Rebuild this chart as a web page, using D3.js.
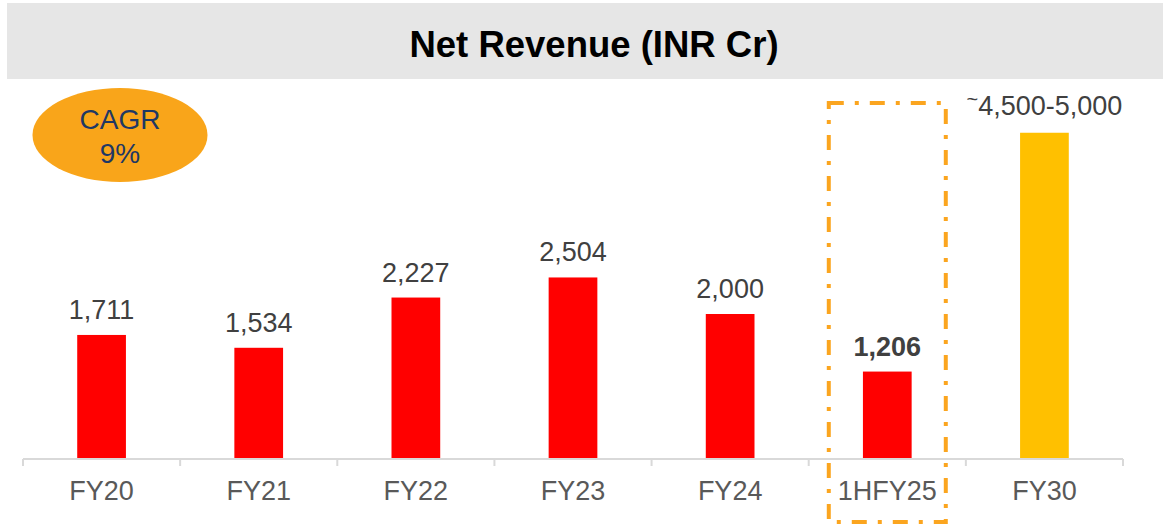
<!DOCTYPE html>
<html>
<head>
<meta charset="utf-8">
<script src="https://cdn.jsdelivr.net/npm/d3@7"></script>
<style>
  body { margin: 0; background: #fff; }
  svg { display: block; font-family: Arial, "Liberation Sans", sans-serif; }
</style>
</head>
<body>
<div id="chart"></div>
<script>
const categories = ['FY20', 'FY21', 'FY22', 'FY23', 'FY24', '1HFY25', 'FY30'];
const values = [1711, 1534, 2227, 2504, 2000, 1206, 4500];
const valueLabels = ['1,711', '1,534', '2,227', '2,504', '2,000', '1,206', '4,500-5,000'];
const highlighted = '1HFY25';
const target = 'FY30';

const width = 1163, height = 524;
const baseY = 459;

const svg = d3.select('#chart').append('svg')
    .attr('width', width)
    .attr('height', height);

// title band
svg.append('rect')
    .attr('x', 7).attr('y', 3)
    .attr('width', width - 7).attr('height', 76)
    .attr('fill', '#e6e6e6');

svg.append('text')
    .attr('x', 594).attr('y', 57)
    .attr('text-anchor', 'middle')
    .attr('font-size', 36.5)
    .attr('font-weight', 'bold')
    .attr('fill', '#000')
    .text('Net Revenue (INR Cr)');

const x = d3.scaleBand()
    .domain(categories)
    .range([23, 1123])
    .paddingInner(0.69)
    .paddingOuter(0.345);

const y = d3.scaleLinear()
    .domain([0, 5000])
    .range([baseY, baseY - 362.5]);

// bars
svg.append('g')
  .selectAll('rect')
    .data(categories)
  .enter().append('rect')
    .attr('x', d => x(d))
    .attr('y', (d, i) => y(values[i]))
    .attr('width', x.bandwidth())
    .attr('height', (d, i) => baseY - y(values[i]))
    .attr('fill', d => d === target ? '#ffc000' : '#ff0000');

// value labels
const labels = svg.append('g')
  .selectAll('text')
    .data(categories)
  .enter().append('text')
    .attr('x', d => x(d) + x.bandwidth() / 2)
    .attr('y', (d, i) => y(values[i]) - (d === target ? 18 : 16))
    .attr('text-anchor', 'middle')
    .attr('font-size', 27)
    .attr('font-weight', d => d === highlighted ? 'bold' : 'normal')
    .attr('fill', '#404040');

// FY30 range label gets a raised tilde
labels.filter(d => d === target)
  .append('tspan')
    .attr('font-size', 20)
    .attr('dy', -9)
    .text('~');
labels.filter(d => d === target)
  .append('tspan')
    .attr('dy', 9)
    .text(d => valueLabels[categories.indexOf(d)]);
labels.filter(d => d !== target)
    .text(d => valueLabels[categories.indexOf(d)]);

// axis line + boundary ticks
const axisG = svg.append('g').attr('class', 'axis');
axisG.append('line')
    .attr('x1', x.range()[0]).attr('x2', x.range()[1])
    .attr('y1', baseY).attr('y2', baseY)
    .attr('stroke', '#d9d9d9').attr('stroke-width', 2);

axisG.selectAll('.tick-mark')
    .data(d3.range(categories.length + 1))
  .enter().append('line')
    .attr('class', 'tick-mark')
    .attr('x1', i => x.range()[0] + i * x.step())
    .attr('x2', i => x.range()[0] + i * x.step())
    .attr('y1', baseY).attr('y2', baseY + 7)
    .attr('stroke', '#d9d9d9').attr('stroke-width', 2);

// category labels
const labelAxis = svg.append('g')
    .attr('transform', `translate(0,${baseY})`)
    .call(d3.axisBottom(x).tickSize(0).tickPadding(22));
labelAxis.select('.domain').remove();
labelAxis.selectAll('text')
    .attr('font-size', 27)
    .attr('font-family', 'Arial, "Liberation Sans", sans-serif')
    .attr('fill', '#595959');

// dash-dot highlight box
const hx = x(highlighted) + x.bandwidth() / 2;
svg.append('rect')
    .attr('x', hx - 58.5).attr('y', 103)
    .attr('width', 117).attr('height', 419)
    .attr('fill', 'none')
    .attr('stroke', '#fba51f')
    .attr('stroke-width', 4)
    .attr('stroke-dasharray', '15,11,4,11');

// CAGR bubble
svg.append('ellipse')
    .attr('cx', 120).attr('cy', 135)
    .attr('rx', 87.5).attr('ry', 47)
    .attr('fill', '#f9a51a');

svg.append('text')
    .attr('x', 120).attr('y', 129)
    .attr('text-anchor', 'middle')
    .attr('font-size', 28)
    .attr('fill', '#1f3864')
    .text('CAGR');

svg.append('text')
    .attr('x', 120).attr('y', 163)
    .attr('text-anchor', 'middle')
    .attr('font-size', 28)
    .attr('fill', '#1f3864')
    .text('9%');
</script>
</body>
</html>
